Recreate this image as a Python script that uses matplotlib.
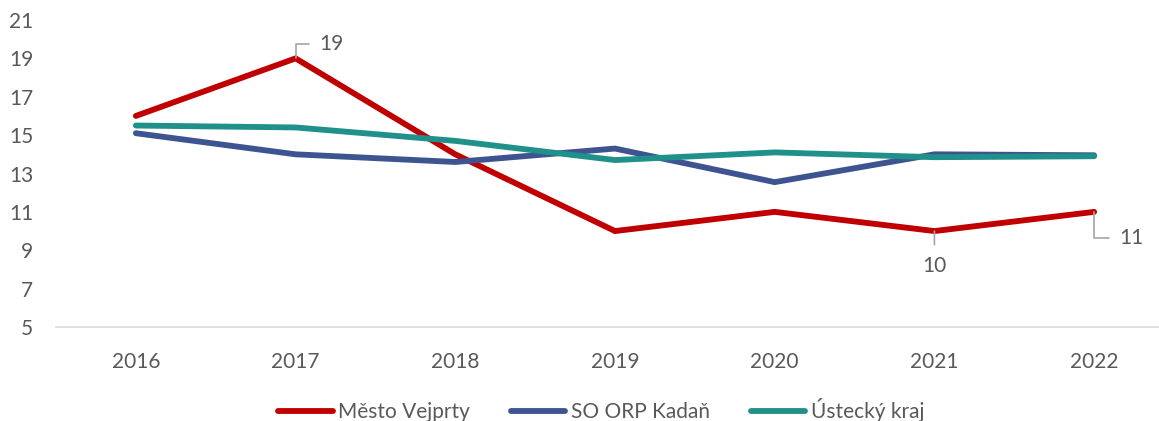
import matplotlib
matplotlib.use("Agg")
import matplotlib.pyplot as plt
from matplotlib.lines import Line2D

years = ["2016", "2017", "2018", "2019", "2020", "2021", "2022"]
vejprty = [16, 19, 14, 10, 11, 10, 11]
kadan = [15.1, 14.0, 13.6, 14.3, 12.55, 14.0, 13.95]
ustecky = [15.5, 15.4, 14.7, 13.7, 14.1, 13.85, 13.9]
series_names = ["Město Vejprty", "SO ORP Kadaň", "Ústecký kraj"]
yticks = [5, 7, 9, 11, 13, 15, 17, 19, 21]

colors = ["#C00000", "#3E5490", "#20908A"]
txt = "#595959"
plt.rcParams['font.family'] = ['Lato', 'DejaVu Sans']
FS = 15

W, H = 1159, 421
fig = plt.figure(figsize=(W/100, H/100), dpi=100)
left, right = 56/W, 1174/W
bottom, top = 1 - 327/H, 1 - 20/H
ax = fig.add_axes([left, bottom, right-left, top-bottom])

x = list(range(len(years)))
for vals, c, n in zip([vejprty, kadan, ustecky], colors, series_names):
    ax.plot(x, vals, color=c, lw=4.2, label=n, solid_capstyle='round', solid_joinstyle='miter')

ax.set_xlim(-0.5, len(years)-0.5)
ax.set_ylim(5, 21)
ax.set_yticks(yticks)
ax.set_xticks(x)
ax.set_xticklabels(years)
ax.tick_params(axis='both', length=0, colors=txt, labelsize=FS)
ax.tick_params(axis='x', pad=18)
ax.tick_params(axis='y', pad=16.5)
for s in ['top', 'right', 'left']:
    ax.spines[s].set_visible(False)
ax.spines['bottom'].set_color('#D9D9D9')
ax.spines['bottom'].set_linewidth(1.2)

lead = dict(arrowstyle='-', color='#A6A6A6', lw=1.2)
# 19
ax.annotate(str(vejprty[1]), xy=(1, vejprty[1]), xytext=(17, 10), textcoords='offset points',
            ha='left', va='center', fontsize=FS, color=txt,
            arrowprops=dict(**lead, connectionstyle='angle,angleA=0,angleB=90,rad=0',
                            relpos=(0, 0.5), shrinkA=5, shrinkB=0))
# 10
ax.annotate(str(vejprty[5]), xy=(5, vejprty[5]), xytext=(0, -25), textcoords='offset points',
            ha='center', va='center', fontsize=FS, color=txt,
            arrowprops=dict(**lead, relpos=(0.5, 1), shrinkA=6, shrinkB=0))
# 11
ax.annotate(str(vejprty[6]), xy=(6, vejprty[6]), xytext=(18, -19), textcoords='offset points',
            ha='left', va='center', fontsize=FS, color=txt,
            arrowprops=dict(**lead, connectionstyle='angle,angleA=0,angleB=90,rad=0',
                            relpos=(0, 0.5), shrinkA=5, shrinkB=0))

handles = [Line2D([0], [0], color=c, lw=4.2, solid_capstyle='round') for c in colors]
leg = fig.legend(handles, series_names, loc='center', bbox_to_anchor=(0.5188, 1 - 410/H),
                 ncol=3, frameon=False, fontsize=FS, handlelength=2.6, handletextpad=0.25,
                 columnspacing=2.0)
for t in leg.get_texts():
    t.set_color(txt)

fig.savefig("out.png", dpi=100)
